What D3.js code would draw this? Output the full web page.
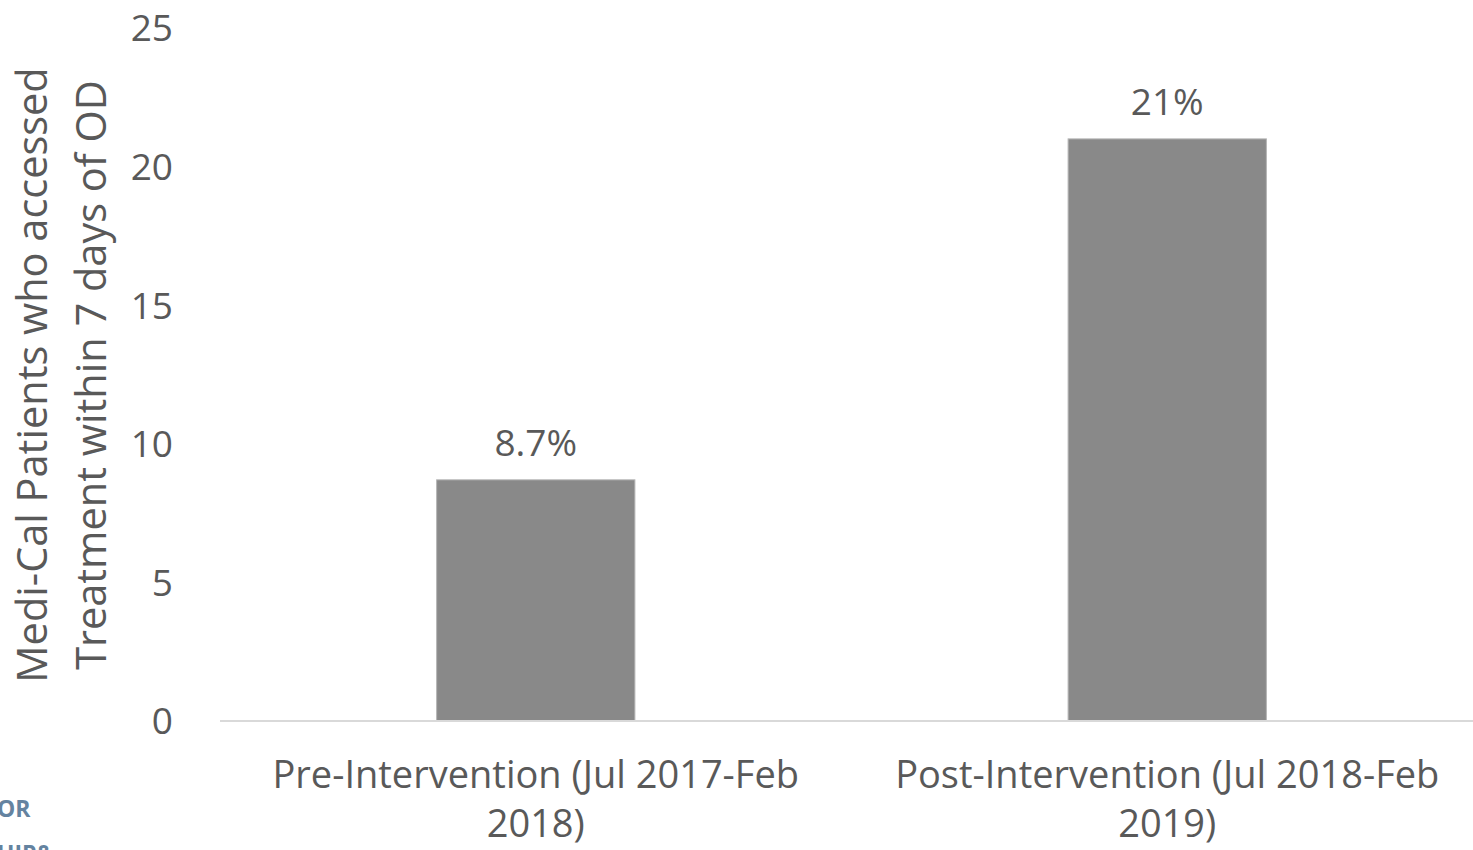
<!DOCTYPE html>
<html>
<head>
<meta charset="utf-8">
<script src="https://cdn.jsdelivr.net/npm/d3@7"></script>
<style>
  html, body { margin: 0; padding: 0; background: #fff; }
  svg text { font-family: "Open Sans", sans-serif; fill: #595959; }
</style>
</head>
<body>
<div id="chart"></div>
<script>
'use strict';

// data
var categories = [
  ["Pre-Intervention (Jul 2017-Feb", "2018)"],
  ["Post-Intervention (Jul 2018-Feb", "2019)"]
];
var values = [8.7, 21];
var valueLabels = ["8.7%", "21%"];
var yTicks = [0, 5, 10, 15, 20, 25];
var yTitle = ["Medi-Cal Patients who accessed", "Treatment  within 7 days of OD"];

var width = 1473, height = 850;
var plot = { left: 220, right: 1483, top: 28, bottom: 721 };

var svg = d3.select("#chart").append("svg")
  .attr("width", width)
  .attr("height", height);

var x = d3.scaleBand()
  .domain(d3.range(categories.length))
  .range([plot.left, plot.right])
  .padding(0);

var y = d3.scaleLinear()
  .domain([0, 25])
  .range([plot.bottom, plot.top]);

var barW = x.bandwidth() * 0.314;

// y tick labels (no axis line in the original)
svg.append("g").selectAll("text")
  .data(yTicks)
  .join("text")
  .attr("x", 173)
  .attr("y", function(d) { return y(d); })
  .attr("dy", "0.36em")
  .attr("text-anchor", "end")
  .style("font-size", "37px")
  .text(function(d) { return d; });

// bars
svg.append("g").selectAll("rect")
  .data(values)
  .join("rect")
  .attr("x", function(d, i) { return x(i) + x.bandwidth() / 2 - barW / 2; })
  .attr("y", function(d) { return y(d); })
  .attr("width", barW)
  .attr("height", function(d) { return y(0) - y(d); })
  .attr("fill", "#898989")
  .attr("stroke", "#b5b5b5")
  .attr("stroke-width", 1);

// baseline
svg.append("line")
  .attr("x1", plot.left).attr("x2", plot.right)
  .attr("y1", y(0)).attr("y2", y(0))
  .attr("stroke", "#d9d9d9")
  .attr("stroke-width", 2);

// value labels
svg.append("g").selectAll("text")
  .data(values)
  .join("text")
  .attr("x", function(d, i) { return x(i) + x.bandwidth() / 2; })
  .attr("y", function(d) { return y(d) - 24; })
  .attr("text-anchor", "middle")
  .style("font-size", "37px")
  .text(function(d, i) { return valueLabels[i]; });

// category labels
var cat = svg.append("g").selectAll("text")
  .data(categories)
  .join("text")
  .attr("text-anchor", "middle")
  .style("font-size", "38px");
cat.selectAll("tspan")
  .data(function(d, i) { return d.map(function(s) { return { s: s, i: i }; }); })
  .join("tspan")
  .attr("x", function(d) { return x(d.i) + x.bandwidth() / 2; })
  .attr("y", function(d, j) { return 788 + j * 49; })
  .text(function(d) { return d.s; });

// y axis title
var yt = svg.append("text")
  .attr("transform", "translate(0," + 375 + ") rotate(-90)")
  .attr("text-anchor", "middle")
  .style("font-size", "41.5px");
yt.selectAll("tspan")
  .data(yTitle)
  .join("tspan")
  .attr("x", 0)
  .attr("y", function(d, i) { return 47 + i * 59; })
  .text(function(d) { return d; });

// cropped logo fragment bottom-left
svg.append("text")
  .attr("x", -3).attr("y", 817)
  .style("font-size", "23px").style("font-weight", "bold")
  .style("fill", "#6483a0")
  .text("OR");
svg.append("text")
  .attr("x", -3).attr("y", 862)
  .style("font-size", "23px").style("font-weight", "bold")
  .style("fill", "#6483a0")
  .text("UIP&");
</script>
</body>
</html>
